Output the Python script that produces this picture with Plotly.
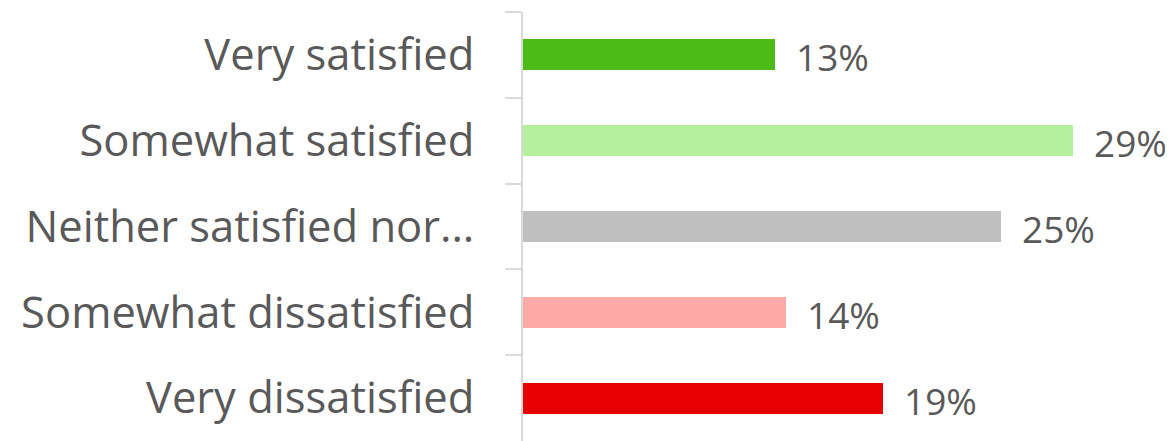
import plotly.graph_objects as go

categories = ["Very satisfied", "Somewhat satisfied", "Neither satisfied nor...",
              "Somewhat dissatisfied", "Very dissatisfied"]
values = [13.3, 29.0, 25.2, 13.9, 19.0]
colors = ["#4cbb17", "#b7f09c", "#bfbfbf", "#ffa9a9", "#e60000"]

fig = go.Figure()
fig.add_trace(go.Bar(
    x=values, y=categories, orientation="h",
    marker=dict(color=colors, line=dict(width=0)),
    width=0.36, hoverinfo="skip",
))

# value labels to the right of each bar
for cat, val in zip(categories, values):
    fig.add_annotation(
        x=val, y=cat, text=f"{val:.0f}%", showarrow=False,
        xanchor="left", xshift=19, yshift=-2,
        font=dict(family="Open Sans", size=37, color="#595959"),
    )

fig.update_yaxes(
    type="category", autorange="reversed",
    showline=True, linecolor="#d9d9d9", linewidth=2,
    ticks="outside", ticklen=16, tickcolor="#d9d9d9", tickwidth=2,
    tickson="boundaries", ticklabelstandoff=38,
    tickfont=dict(family="Open Sans", size=43.5, color="#595959"),
    showgrid=False,
)
fig.update_xaxes(range=[0, 34.3], visible=False, showgrid=False)

# page body has an 8px margin, so the figure is shrunk to fit the window
fig.update_layout(
    width=1165, height=433,
    margin=dict(l=515, r=0, t=4, b=0),
    plot_bgcolor="white", paper_bgcolor="white",
    showlegend=False, bargap=0,
)

fig.write_html("out.html")
